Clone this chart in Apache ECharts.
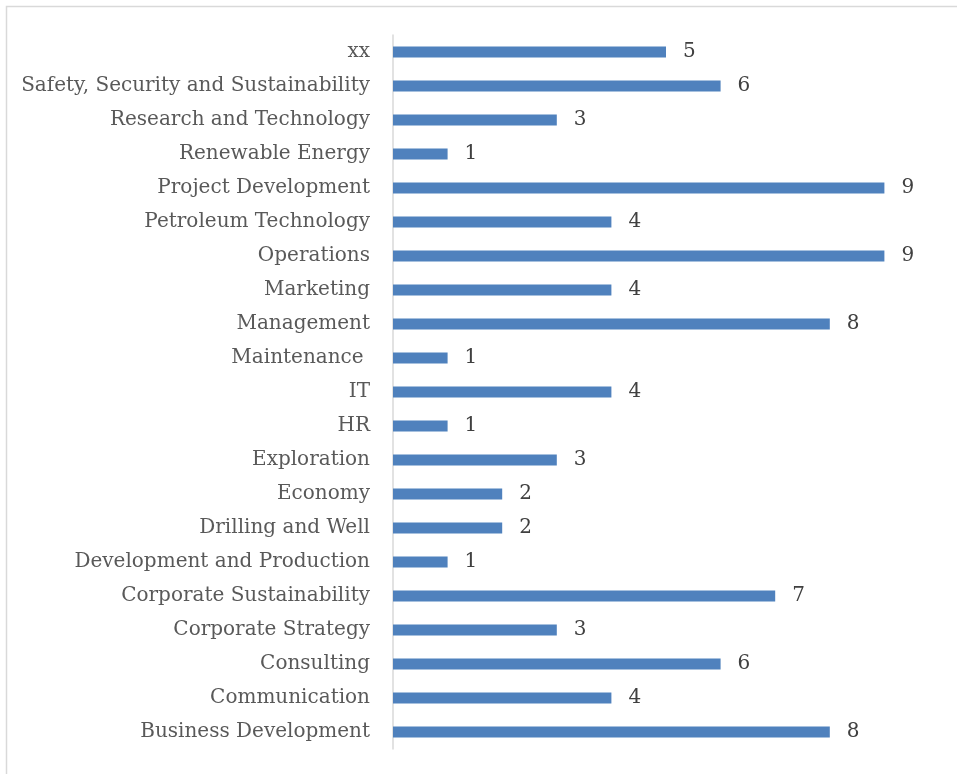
<!DOCTYPE html>
<html>
<head>
<meta charset="utf-8">
<script src="https://cdn.jsdelivr.net/npm/echarts@6/dist/echarts.min.js"></script>
<style>
html,body{margin:0;padding:0;background:#fff;}
#chart{width:957px;height:774px;}
</style>
</head>
<body>
<div id="chart"></div>
<script>
const categories = [
  "Business Development","Communication","Consulting","Corporate Strategy",
  "Corporate Sustainability","Development and Production","Drilling and Well",
  "Economy","Exploration","HR","IT","Maintenance ","Management","Marketing",
  "Operations","Petroleum Technology","Project Development","Renewable Energy",
  "Research and Technology","Safety, Security and Sustainability","xx"
];
const values = [8,4,6,3,7,1,2,2,3,1,4,1,8,4,9,4,9,1,3,6,5];

const chart = echarts.init(document.getElementById('chart'), null, {renderer:'canvas'});
const font = '"DejaVu Serif", serif';
chart.setOption({
  animation:false,
  graphic:[{
    type:'rect', silent:true, z:-1,
    shape:{x:6.5,y:6.5,width:1000,height:1000},
    style:{fill:'#fff',stroke:'#d9d9d9',lineWidth:1.5}
  }],
  grid:{left:393,right:18,top:35,bottom:25},
  xAxis:{type:'value',min:0,max:10,show:true,
    axisLine:{show:false},axisTick:{show:false},axisLabel:{show:false},splitLine:{show:false}},
  yAxis:{type:'category',data:categories,
    axisLine:{show:true,lineStyle:{color:'#d9d9d9',width:1.5}},
    axisTick:{show:false},
    axisLabel:{color:'#595959',fontFamily:font,fontSize:20,margin:23}},
  series:[{
    type:'bar',data:values,barWidth:11,
    itemStyle:{color:'#4F81BD'},
    label:{show:true,position:'right',distance:17,color:'#404040',fontFamily:font,fontSize:20}
  }]
});
</script>
</body>
</html>
